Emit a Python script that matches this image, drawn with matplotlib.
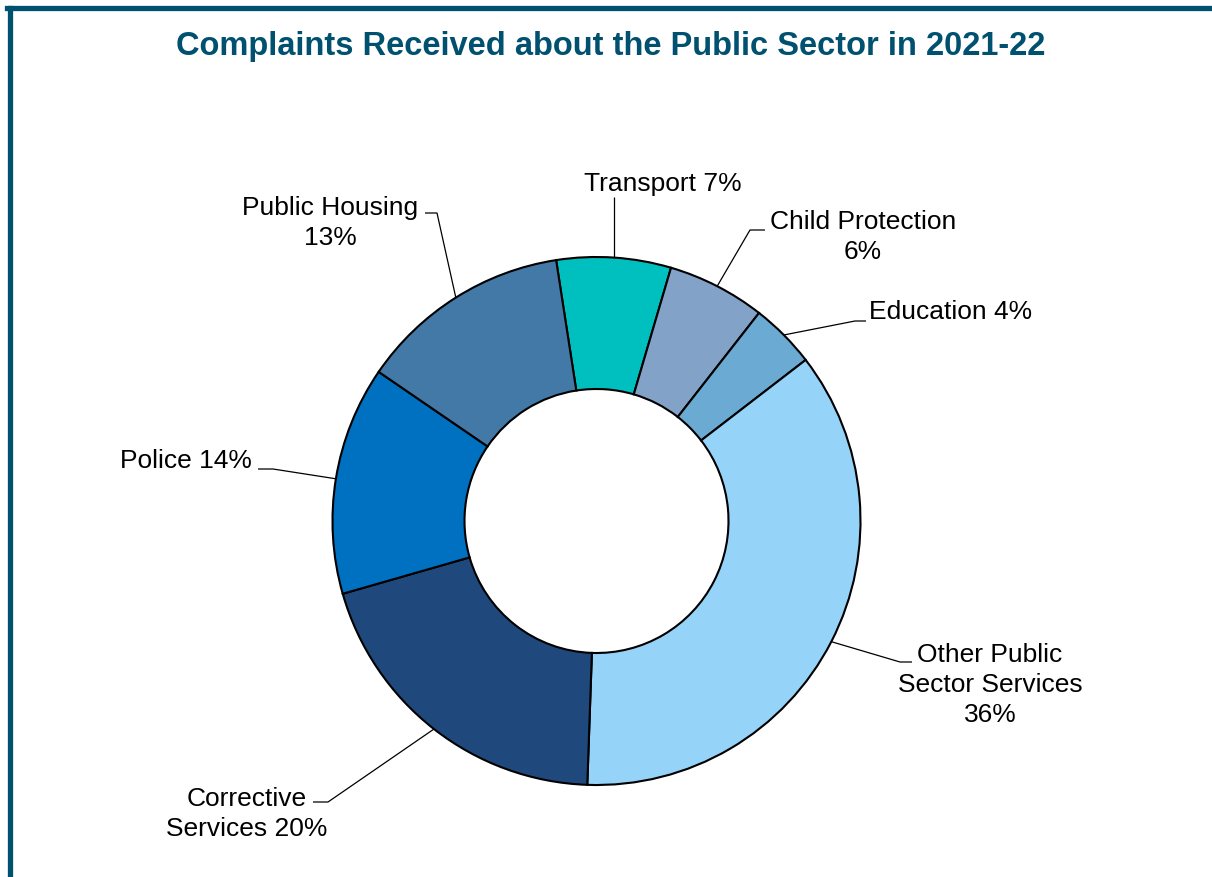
import matplotlib
matplotlib.use("Agg")
import matplotlib.pyplot as plt
import numpy as np

# Complaint categories, clockwise from the top of the ring
categories = ["Transport", "Child Protection", "Education",
              "Other Public Sector Services", "Corrective Services",
              "Police", "Public Housing"]
shares = [7, 6, 4, 36, 20, 14, 13]
label_text = ["Transport 7%", "Child Protection\n6%", "Education 4%",
              "Other Public\nSector Services\n36%", "Corrective\nServices 20%",
              "Police 14%", "Public Housing\n13%"]
colors = ["#00BFBF", "#82A2C8", "#6BAAD2", "#96D3F9", "#1F497D",
          "#0070C0", "#4379A7"]

W, H = 1212, 877
CX, CY, R = 596.5, 521, 264
TEAL = "#005070"
FONT = "Liberation Sans"

fig = plt.figure(figsize=(W / 100, H / 100), dpi=100, facecolor="white")
ax = fig.add_axes([0, 0, 1, 1])


def px(x, y):
    """pixel position (origin top-left) -> axes data units"""
    return (x - CX) / R, (CY - y) / R


wedges, _ = ax.pie(shares, colors=colors, radius=1.0, startangle=98.8,
                   counterclock=False, center=(0, 0),
                   wedgeprops=dict(width=0.5, edgecolor="black", linewidth=1.5))
# pie() resets the limits, so set the pixel-scaled ones afterwards
ax.set_xlim(-CX / R, (W - CX) / R)
ax.set_ylim(-(H - CY) / R, CY / R)
ax.set_aspect("auto")
ax.axis("off")

# label anchor (text centre), elbow of the leader, end of the leader
layout = [
    ((663, 184), None, (604, 197)),
    ((863, 237), (750, 230), (765, 230)),
    ((951, 312), (855, 321), (866, 321)),
    ((990, 685), (900, 662), (912, 662)),
    ((247, 814), (328, 802), (313, 802)),
    ((186, 461), (273, 469), (258, 469)),
    ((330, 223), (437, 213), (425, 213)),
]

for w, txt, (tpos, elbow, end) in zip(wedges, label_text, layout):
    mid = np.deg2rad((w.theta1 + w.theta2) / 2)
    start = (np.cos(mid), np.sin(mid))
    if elbow is None:
        # straight vertical leader
        e = px(*end)
        pts = [start, (start[0], e[1])]
    else:
        pts = [start, px(*elbow), px(*end)]
    xs, ys = zip(*pts)
    ax.plot(xs, ys, color="black", linewidth=0.9, solid_capstyle="butt")
    ax.text(*px(*tpos), txt, ha="center", va="center", multialignment="center",
            fontsize=19, family=FONT, color="black", linespacing=1.32)

# title
fig.text(611 / W, 1 - 47 / H,
         "Complaints Received about the Public Sector in 2021-22",
         ha="center", va="center", fontsize=23.5, fontweight="bold",
         family=FONT, color=TEAL)

# frame on top and left edge
fig.add_artist(plt.Line2D([7 / W, 1], [1 - 8 / H, 1 - 8 / H],
                          color=TEAL, linewidth=3.8, transform=fig.transFigure))
fig.add_artist(plt.Line2D([9.5 / W, 9.5 / W], [0, 1 - 8 / H],
                          color=TEAL, linewidth=3.8, transform=fig.transFigure))

fig.savefig("out.png", dpi=100, facecolor="white")
